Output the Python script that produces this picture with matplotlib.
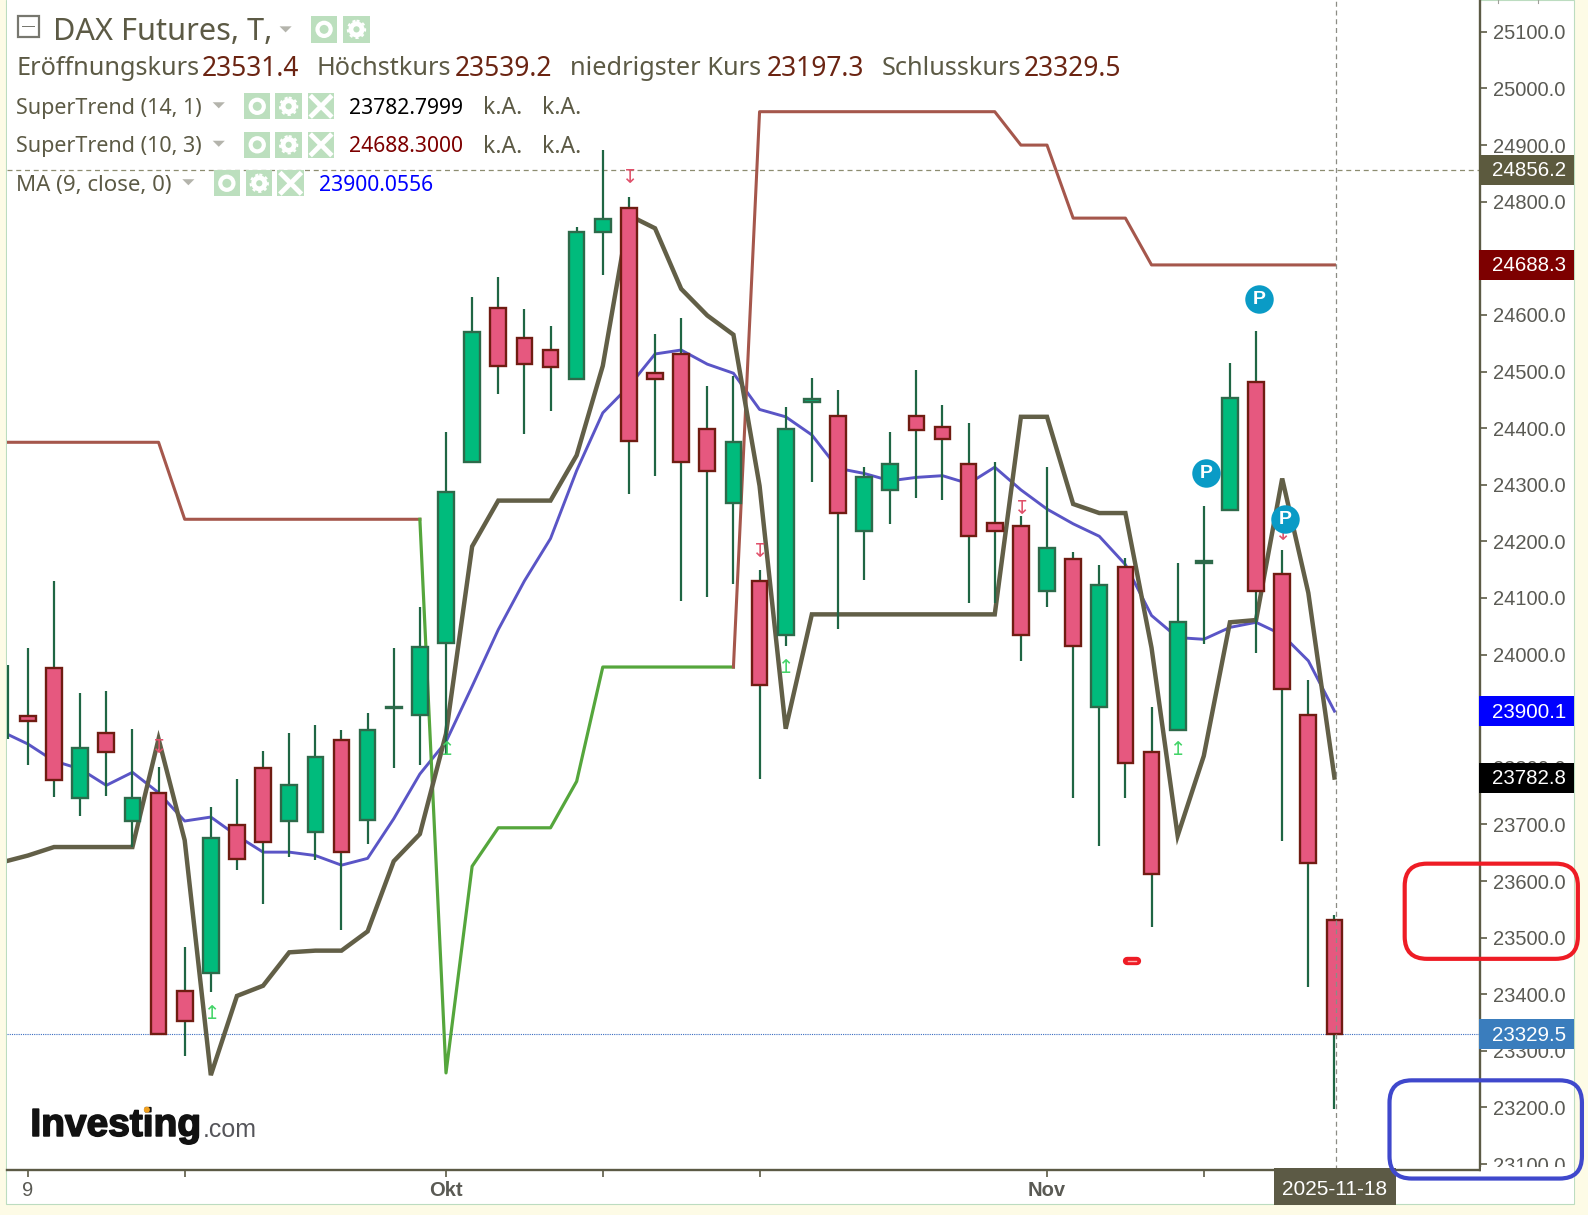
import numpy as np
import matplotlib
matplotlib.use('Agg')
import matplotlib.pyplot as plt
import matplotlib.patheffects as pe
from matplotlib.lines import Line2D
from matplotlib.patches import Circle, FancyBboxPatch, Polygon, Rectangle
from matplotlib.transforms import Affine2D, IdentityTransform

# daily candles
opens = [23892, 23976, 23746, 23862, 23706, 23755, 23406, 23438, 23699, 23799, 23706, 23687, 23849,
         23708, 23905, 23894, 24021, 24341, 24613, 24560, 24538, 24486, 24746, 24789, 24497, 24531,
         24399, 24268, 24130, 24034, 24447, 24422, 24218, 24291, 24422, 24402, 24336, 24232, 24227,
         24112, 24168, 23907, 24155, 23828, 23867, 24161, 24256, 24481, 24143, 23894, 23531.4]
closes = [23882, 23778, 23835, 23828, 23746, 23329, 23352, 23676, 23638, 23669, 23769, 23819, 23651,
          23866, 23908, 24014, 24288, 24570, 24510, 24513, 24508, 24746, 24769, 24377, 24486, 24341,
          24325, 24375, 23946, 24399, 24451, 24250, 24313, 24336, 24397, 24381, 24209, 24218, 24035,
          24189, 24016, 24123, 23808, 23612, 24057, 24166, 24454, 24112, 23939, 23631, 23329.5]
highs = [24012, 24130, 23932, 23935, 23869, 23801, 23483, 23731, 23780, 23830, 23862, 23876, 23866,
         23896, 24012, 24084, 24393, 24631, 24667, 24610, 24581, 24756, 24892, 24808, 24567, 24594,
         24474, 24492, 24150, 24438, 24488, 24468, 24332, 24393, 24502, 24440, 24409, 24341, 24245,
         24332, 24182, 24159, 24170, 23908, 24161, 24263, 24515, 24572, 24184, 23955, 23539.2]
lows = [23805, 23749, 23715, 23751, 23660, 23329, 23290, 23404, 23620, 23560, 23642, 23637, 23513,
        23665, 23799, 23805, 23824, 24341, 24460, 24390, 24431, 24485, 24671, 24284, 24315, 24095,
        24102, 24125, 23780, 24016, 24304, 24046, 24132, 24231, 24277, 24273, 24091, 24091, 23989,
        24084, 23747, 23662, 23747, 23518, 23867, 24019, 24256, 24003, 23671, 23413, 23197.3]
prior_wick = [23851, 23982]

# the indicators start one session before the first full candle
ma_9 = [23864, 23842, 23812, 23798, 23769, 23792, 23756, 23706, 23713, 23680, 23651, 23651, 23645,
        23628, 23640, 23710, 23789, 23846, 23944, 24044, 24130, 24205, 24325, 24427, 24474, 24531,
        24538, 24513, 24497, 24433, 24420, 24388, 24329, 24320, 24307, 24313, 24316, 24302, 24331,
        24291, 24257, 24231, 24209, 24159, 24069, 24030, 24027, 24048, 24057, 24035, 23989, 23900.06]
st_14_1 = [23633, 23645, 23660, 23660, 23660, 23660, 23851, 23672, 23257, 23397, 23415, 23474, 23477,
           23477, 23511, 23635, 23683, 23860, 24191, 24272, 24272, 24272, 24352, 24510, 24776, 24753,
           24646, 24599, 24565, 24298, 23869, 24071, 24071, 24071, 24071, 24071, 24071, 24071, 24071,
           24420, 24420, 24266, 24250, 24250, 24012, 23680, 23821, 24057, 24061, 24311, 24109, 23782.8]
st_10_3 = [24375, 24375, 24375, 24375, 24375, 24375, 24375, 24239, 24239, 24239, 24239, 24239, 24239,
           24239, 24239, 24239, 24239, 23261, 23626, 23694, 23694, 23694, 23776, 23978, 23978, 23978,
           23978, 23978, 23978, 24959, 24959, 24959, 24959, 24959, 24959, 24959, 24959, 24959, 24959,
           24900, 24900, 24771, 24771, 24771, 24688.3, 24688.3, 24688.3, 24688.3, 24688.3, 24688.3,
           24688.3, 24688.3]
st_up_first = 16
st_up_last = 28

sell_arrows = [(5, 23837), (23, 24844), (28, 24184), (38, 24259), (48, 24214)]
buy_arrows = [(7, 23366), (16, 23833), (29, 23978), (44, 23832)]
p_markers = [(45.1, 24320), (47.13, 24628), (48.1, 24239)]
red_dash = (42.25, 23459)

date_ticks = [0, 6, 16, 22, 28, 39, 45]
date_labels = ['9', '', 'Okt', '', '', 'Nov', '']
price_ticks = np.arange(23100, 25101, 100)
cursor_price = 24856.2
last_close = 23329.5
price_tags = [(24856.2, '#5c5a3e'), (24688.3, '#7d0000'), (23900.1, '#0000ff'),
              (23782.8, '#000000'), (23329.5, '#3a7dbd')]
strip_ticks = [89, 162, 239, 309, 378, 1266, 1330, 1406, 1498, 1538]

W, H = 1588, 1215
OLIVE = '#5c5a45'
SANS = 'Noto Sans'
ARIAL = 'Liberation Sans'

fig = plt.figure(figsize=(W / 100, H / 100), dpi=100, facecolor='#fdfbe6')
# coordinates below are taken from the 1568x1200 view, y going down
px = Affine2D().scale(W / 1568, -H / 1200).translate(0, H)


def put(patch, z=1):
    patch.set_transform(px)
    patch.set_zorder(z)
    fig.add_artist(patch)


def label(x, y, s, color=OLIVE, size=15.5, family=SANS, **kw):
    fig.text(x, y, s, transform=px, color=color, fontsize=size, family=family, va='center', **kw)


def triangle(x, y):
    put(Polygon([(x - 6, y - 3), (x + 6, y - 3), (x, y + 3)], color='#b4b4ac', lw=0))


def icon(kind, x, y):
    put(Rectangle((x - 13, y - 13), 26, 26, color='#bcdfbe', lw=0))
    if kind == 'eye':
        put(Circle((x, y), 6.5, fc='none', ec='white', lw=3), 2)
    elif kind == 'gear':
        put(Circle((x, y), 5.5, fc='none', ec='white', lw=3.5), 2)
        put(Circle((x, y), 8.5, fc='none', ec='white', lw=1.5, ls=(0, (1.5, 1.5))), 2)
    else:
        for sign in (1, -1):
            line = Line2D([x - 9, x + 9], [y - 9 * sign, y + 9 * sign], color='white', lw=3.5)
            line.set_transform(px)
            line.set_zorder(2)
            fig.add_artist(line)


def draw_candles(ax):
    x = np.arange(len(opens))
    o, c = np.array(opens), np.array(closes)
    up = c >= o
    body_fill = np.where(up, '#00bb7c', '#e6587f')
    body_edge = np.where(up, '#2d6a4a', '#701c12')
    ax.vlines(x, lows, highs, color='#1f6644', lw=1.6, zorder=3)
    ax.bar(x, np.abs(c - o), bottom=np.minimum(o, c), width=0.6, color=body_fill,
           edgecolor=body_edge, linewidth=1.7, zorder=4)
    ax.vlines(-0.76, prior_wick[0], prior_wick[1], color='#1f6644', lw=1.6, zorder=3)


def draw_indicators(ax):
    x = np.arange(-1, len(opens))
    ax.plot(x, ma_9, color='#5a55c6', lw=2.1, zorder=2)
    ax.plot(x, st_14_1, color='#625f47', lw=3.2, zorder=2.5, solid_joinstyle='miter')
    st = np.array(st_10_3, dtype=float)
    first, last = st_up_first, st_up_last
    ax.plot(x[:first + 1], st[:first + 1], color='#a5574c', lw=2.2, zorder=2)
    ax.plot(x[first:last + 1], st[first:last + 1], color='#55a63c', lw=2.3, zorder=2)
    ax.plot(x[last:], st[last:], color='#a5574c', lw=2.2, zorder=2)


def draw_markers(ax):
    for i, p in sell_arrows:
        ax.text(i, p, '\u21a7', color='#e0506a', fontsize=14, ha='center', va='center',
                family='DejaVu Sans', zorder=5)
    for i, p in buy_arrows:
        ax.text(i, p, '\u21a5', color='#44d468', fontsize=14, ha='center', va='center',
                family='DejaVu Sans', zorder=5)
    for i, p in p_markers:
        ax.scatter(i, p, s=420, color='#0a9bc6', linewidths=0, zorder=6)
        ax.text(i, p, 'P', color='white', fontsize=14, fontweight='bold', family=ARIAL,
                ha='center', va='center', zorder=7)
    i, p = red_dash
    ax.plot([i - 0.2, i + 0.2], [p, p], color='#ee1c25', lw=6, solid_capstyle='round', zorder=5)
    ax.plot([i - 0.15, i + 0.15], [p, p], color='#ffb0b0', lw=1, zorder=6)


def draw_header():
    put(Rectangle((18, 16), 21, 21, fc='white', ec='#77776f', lw=1.6))
    put(Rectangle((22, 26), 13, 1, color='#77776f', lw=0))
    label(52, 32, 'DAX Futures, T,', size=22.1)
    triangle(282, 29)
    icon('eye', 320, 29)
    icon('gear', 352, 29)

    for x, s in [(16, 'Eröffnungskurs'), (313, 'Höchstkurs'), (563, 'niedrigster Kurs'), (871, 'Schlusskurs')]:
        label(x, 68, s, size=18.2)
    for x, s in [(199, '23531.4'), (449, '23539.2'), (757, '23197.3'), (1011, '23329.5')]:
        label(x, 68, s, '#6b2412', size=19)

    for y, name, value, col in [(105, 'SuperTrend (14, 1)', '23782.7999', '#000000'),
                                (143, 'SuperTrend (10, 3)', '24688.3000', '#7d0000')]:
        label(16, y + 2, name)
        triangle(216, y - 1)
        icon('eye', 254, y)
        icon('gear', 285, y)
        icon('x', 317, y)
        label(345, y + 2, value, col, size=15.2)
        label(477, y + 2, 'k.A.', size=16.5)
        label(535, y + 2, 'k.A.', size=16.5)

    label(16, 183, 'MA (9, close, 0)', size=16)
    triangle(186, 180)
    icon('eye', 224, 181)
    icon('gear', 256, 181)
    icon('x', 287, 181)
    label(315, 183, '23900.0556', '#0000ff', size=15.2)


def draw_price_tags(ax):
    for value, col in price_tags:
        y = ax.transData.transform((0, value))[1]
        box = Rectangle((1479, y - 15), 95, 30, color=col, lw=0, transform=IdentityTransform(), zorder=2)
        fig.add_artist(box)
        fig.text(1492, y - 1, f'{value:.1f}', transform=IdentityTransform(), color='white',
                 fontsize=14.8, family=ARIAL, va='center', zorder=3)


def main():
    panel = Rectangle((6, 0), 1548, 1189, fc='white', ec='#bcdcc0', lw=0.8)
    panel.set_transform(px)
    panel.set_zorder(-1)
    fig.add_artist(panel)
    for x in strip_ticks:
        fig.add_artist(Line2D([x, x], [H - 3, H], color='#a0a09a', lw=0.8,
                              transform=IdentityTransform(), zorder=-1))

    ax = fig.add_axes([7 / W, 1 - 1170 / H, (1480 - 7) / W, 1170 / H], facecolor='white')
    draw_indicators(ax)
    draw_candles(ax)
    draw_markers(ax)

    ax.axhline(cursor_price, color='#8c8c70', lw=0.9, ls=(0, (4, 3)), zorder=1)
    ax.axvline(50.07, color='#8c8c84', lw=0.9, ls=(0, (4, 3)), zorder=5)
    ax.axhline(last_close, color='#3a6cc0', lw=0.8, ls=(0, (1, 1)), zorder=1)

    ax.set_xlim(-0.80, 55.57)
    ax.set_ylim(23089.5, 25156.3)
    for side in ('top', 'left'):
        ax.spines[side].set_visible(False)
    for side in ('right', 'bottom'):
        ax.spines[side].set_color(OLIVE)
        ax.spines[side].set_linewidth(1.7)

    ax.yaxis.tick_right()
    ax.set_yticks(price_ticks)
    ax.set_yticklabels([f'{p:.1f}' for p in price_ticks], family=ARIAL, fontsize=14.5, color='#5a5a54')
    ax.tick_params(axis='y', length=5, width=1.2, color=OLIVE, pad=4)
    ax.set_xticks(date_ticks)
    ax.set_xticklabels(date_labels, family=ARIAL, fontsize=14.5, color='#5a5a54')
    for tick, text in zip(ax.get_xticklabels(), date_labels):
        if text != '9':
            tick.set_fontweight('bold')
    ax.tick_params(axis='x', length=5, width=1.2, color=OLIVE, pad=3)

    # the lowest price label is cut off by the chart's lower edge
    put(Rectangle((1462, 1152.5), 92, 36, color='white', lw=0))
    draw_price_tags(ax)

    put(Rectangle((1258, 1154), 120, 36, color=OLIVE, lw=0), 2)
    label(1318, 1175, '2025-11-18', 'white', size=15, family=ARIAL, ha='center')
    draw_header()

    logo = fig.text(30, 1112, 'Investing', transform=px, color='#111111', fontsize=28, family=ARIAL,
                    fontweight='bold', va='center', zorder=3)
    logo.set_path_effects([pe.withStroke(linewidth=1.2, foreground='#111111')])
    fig.text(200, 1116, '.com', transform=px, color='#55555a', fontsize=18, family=ARIAL,
             va='center', zorder=3)
    put(Circle((145, 1096), 3, color='#f0a020', lw=0), 4)

    put(FancyBboxPatch((1387, 853), 171, 94, boxstyle='round,pad=0,rounding_size=22',
                       fc='none', ec='#ee1c25', lw=3), 4)
    put(FancyBboxPatch((1372, 1067), 190, 97, boxstyle='round,pad=0,rounding_size=22',
                       fc='none', ec='#3f48cc', lw=3), 4)

    fig.savefig('out.png', dpi=100, facecolor=fig.get_facecolor())


if __name__ == "__main__":
    main()
